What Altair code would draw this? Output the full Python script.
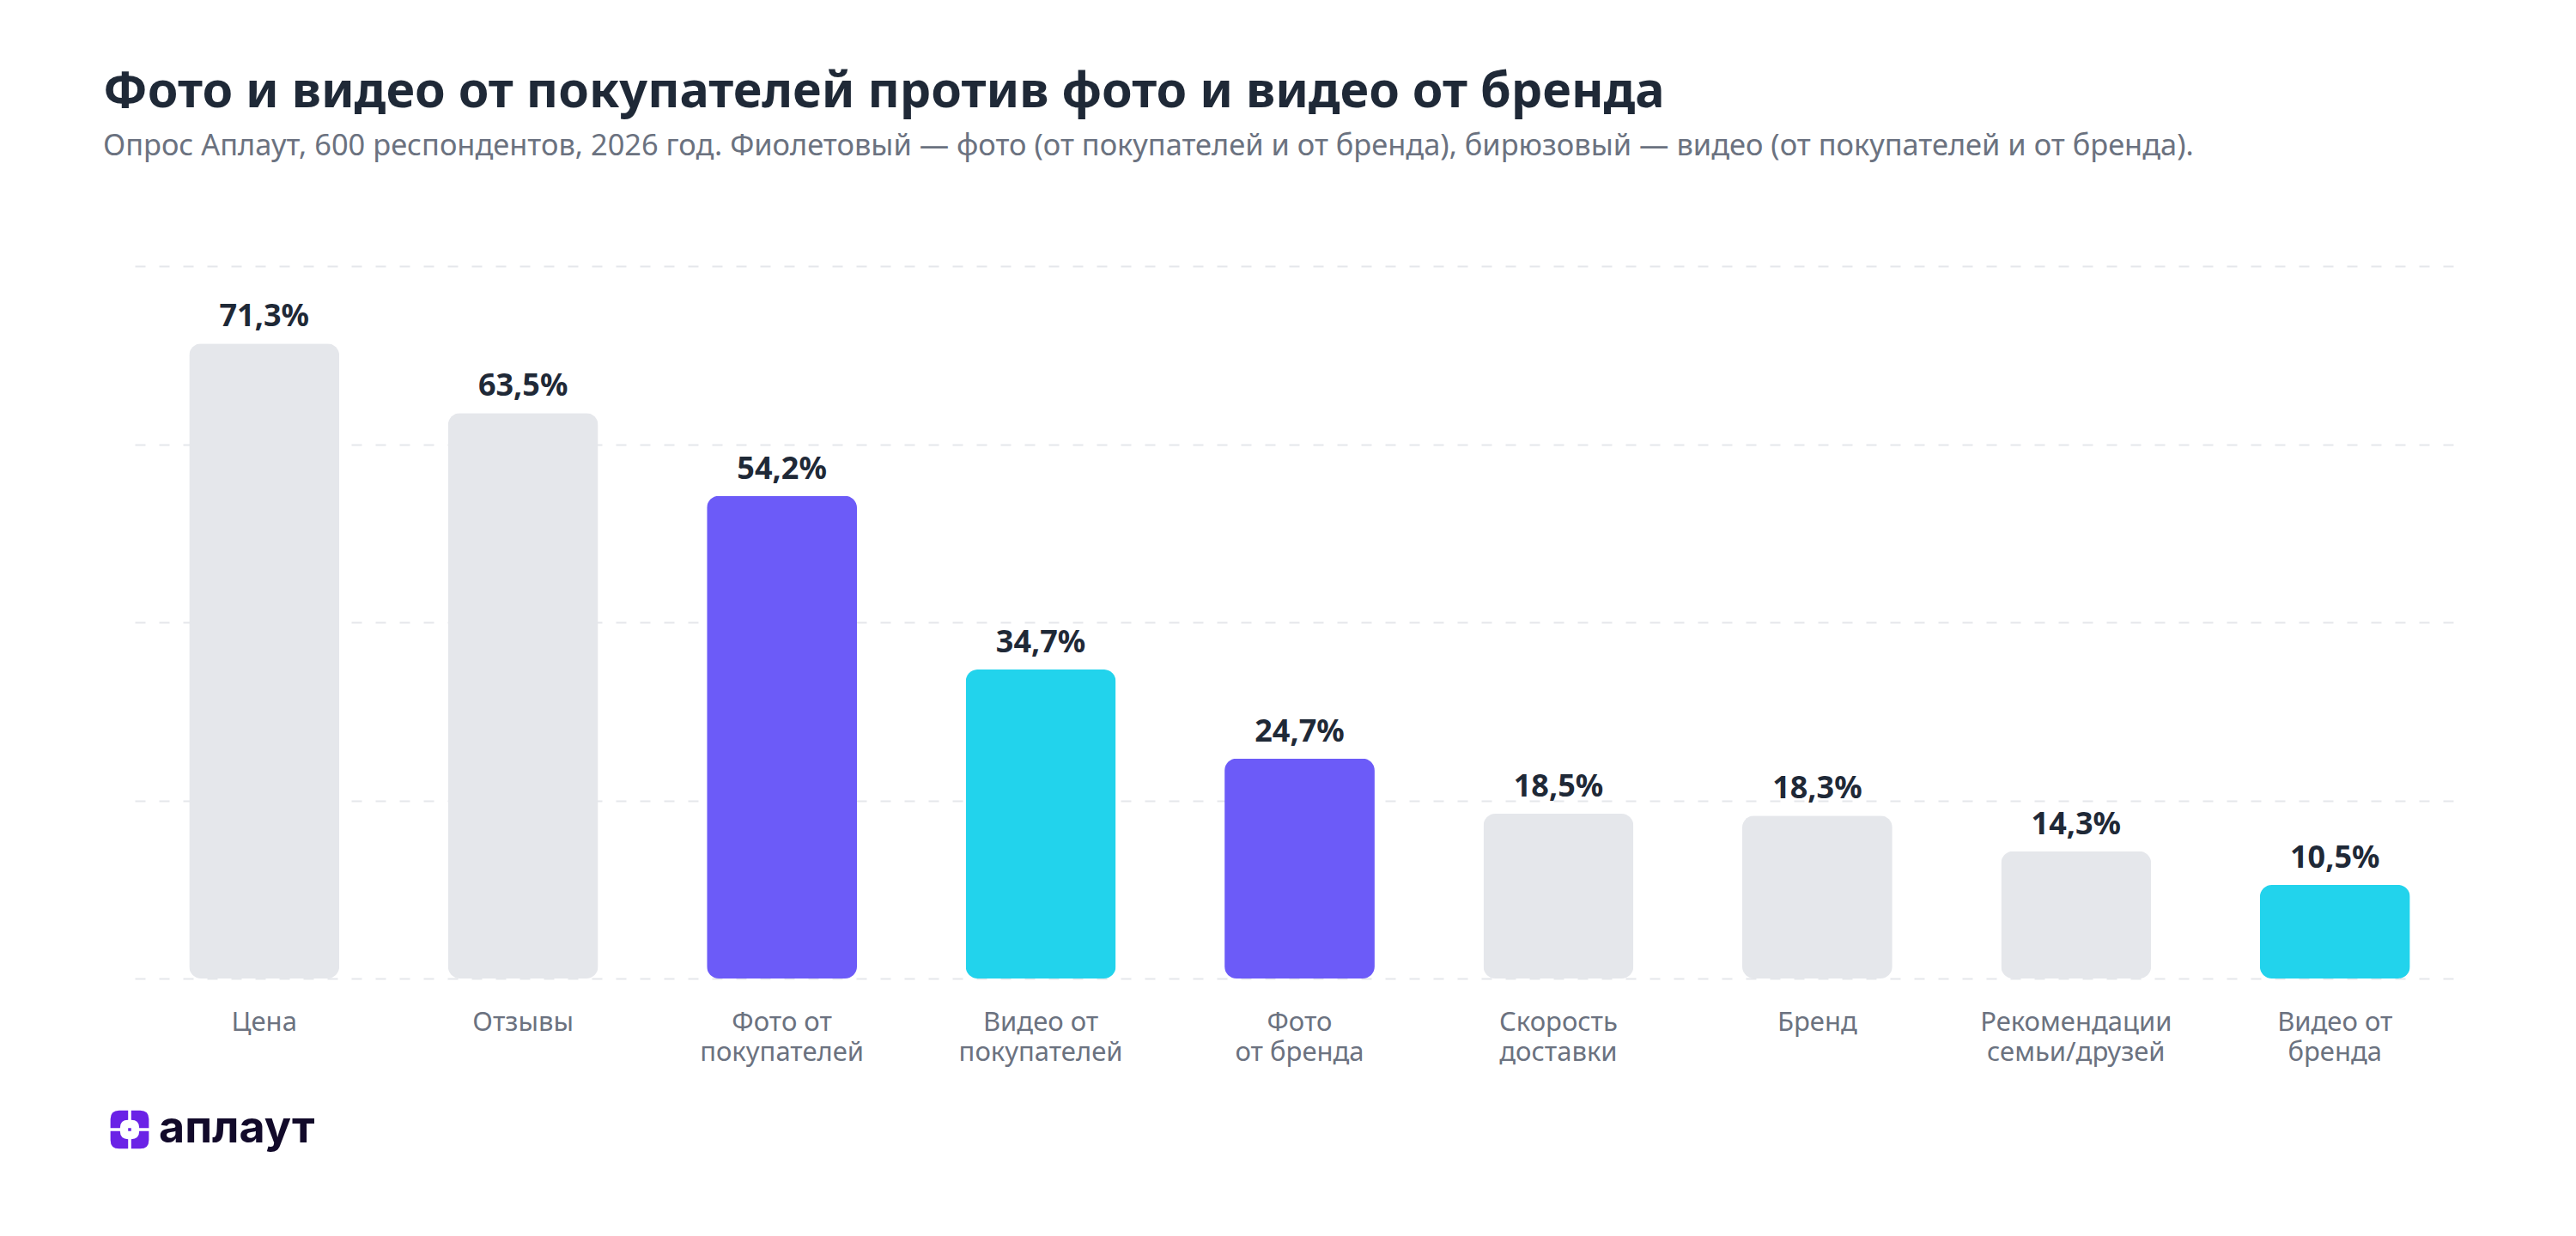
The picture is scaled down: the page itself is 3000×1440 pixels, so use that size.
import altair as alt
import pandas as pd

# Survey data: share of respondents naming each factor
categories = [
    "Цена", "Отзывы", "Фото от покупателей", "Видео от покупателей",
    "Фото от бренда", "Скорость доставки", "Бренд",
    "Рекомендации семьи/друзей", "Видео от бренда",
]
axis_labels = [
    "Цена", "Отзывы", "Фото от|покупателей", "Видео от|покупателей",
    "Фото|от бренда", "Скорость|доставки", "Бренд",
    "Рекомендации|семьи/друзей", "Видео от|бренда",
]
values = [71.3, 63.5, 54.2, 34.7, 24.7, 18.5, 18.3, 14.3, 10.5]
groups = ["other", "other", "photo", "video", "photo", "other", "other", "other", "video"]

df = pd.DataFrame({
    "category": categories,
    "axis_label": axis_labels,
    "value": values,
    "group": groups,
})
df["label"] = df["value"].map(lambda v: f"{v:.1f}".replace(".", ",") + "%")

label_map = dict(zip(categories, axis_labels))
label_expr = "split({" + ",".join(f"'{k}':'{v}'" for k, v in label_map.items()) + "}[datum.label], '|')"

FONT = "Noto Sans"

x_enc = alt.X(
    "category:N",
    sort=categories,
    scale=alt.Scale(paddingInner=0.42),
    axis=alt.Axis(
        title=None, labelAngle=0, domain=False, ticks=False,
        labelFont=FONT, labelFontSize=31, labelColor="#6b7280",
        labelPadding=36, labelLineHeight=35, labelExpr=label_expr,
        labelBaseline="top", labelLimit=0,
    ),
)
y_enc = alt.Y(
    "value:Q",
    scale=alt.Scale(domain=[0, 80], nice=False),
    axis=alt.Axis(
        title=None, labels=False, ticks=False, domain=False,
        values=[0, 20, 40, 60, 80],
        grid=True, gridColor="#e5e7eb", gridWidth=2, gridDash=[12, 16],
    ),
)

color_enc = alt.Color(
    "group:N",
    scale=alt.Scale(domain=["other", "photo", "video"],
                    range=["#e5e7eb", "#6c5bf8", "#22d3ec"]),
    legend=None,
)

bars = alt.Chart(df).mark_bar(cornerRadius=14).encode(x=x_enc, y=y_enc, color=color_enc)

texts = alt.Chart(df).mark_text(
    baseline="alphabetic", dy=-20, font=FONT, fontSize=36, fontWeight="bold", color="#1f2937",
).encode(x=alt.X("category:N", sort=categories), y="value:Q", text="label:N")

# Brand mark in the lower-left corner
logo_df = pd.DataFrame({"name": ["аплаут"]})
logo_text = alt.Chart(logo_df).mark_text(
    align="left", baseline="alphabetic", font="Inter", fontSize=52, fontWeight="bold",
    color="#120a2a",
).encode(x=alt.value(28), y=alt.value(1021), text="name:N")

icon_path = (
    "M-1,-0.55 Q-1,-1 -0.55,-1 L-0.08,-1 L-0.08,-0.5 Q-0.5,-0.5 -0.5,-0.08 L-1,-0.08 Z "
    "M1,-0.55 Q1,-1 0.55,-1 L0.08,-1 L0.08,-0.5 Q0.5,-0.5 0.5,-0.08 L1,-0.08 Z "
    "M-1,0.55 Q-1,1 -0.55,1 L-0.08,1 L-0.08,0.5 Q-0.5,0.5 -0.5,0.08 L-1,0.08 Z "
    "M1,0.55 Q1,1 0.55,1 L0.08,1 L0.08,0.5 Q0.5,0.5 0.5,0.08 L1,0.08 Z "
    "M-0.08,-0.08 L0.08,-0.08 L0.08,0.08 L-0.08,0.08 Z"
)
logo_icon = alt.Chart(logo_df).mark_point(
    shape=icon_path, filled=True, size=2000, color="#6a22e6", opacity=1,
).encode(x=alt.value(-6), y=alt.value(1006))

chart = (
    alt.layer(bars, texts, logo_icon, logo_text)
    .properties(
        width=2713,
        height=830,
        autosize=alt.AutoSizeParams(type="none"),
        padding={"left": 157, "top": 310, "right": 130, "bottom": 300},
        background="white",
        title=alt.TitleParams(
            text="Фото и видео от покупателей против фото и видео от бренда",
            subtitle="Опрос Аплаут, 600 респондентов, 2026 год. Фиолетовый — фото (от покупателей и от бренда), бирюзовый — видео (от покупателей и от бренда).",
            anchor="start", frame="group", dx=-37, offset=122,
            font=FONT, fontSize=57.5, fontWeight="bold", color="#1f2937",
            subtitleFont=FONT, subtitleFontSize=34.4, subtitleColor="#6b7280",
            subtitlePadding=16,
        ),
    )
    .configure_view(stroke=None)
)

chart.save("out.html", embed_options={"renderer": "svg", "actions": False})
